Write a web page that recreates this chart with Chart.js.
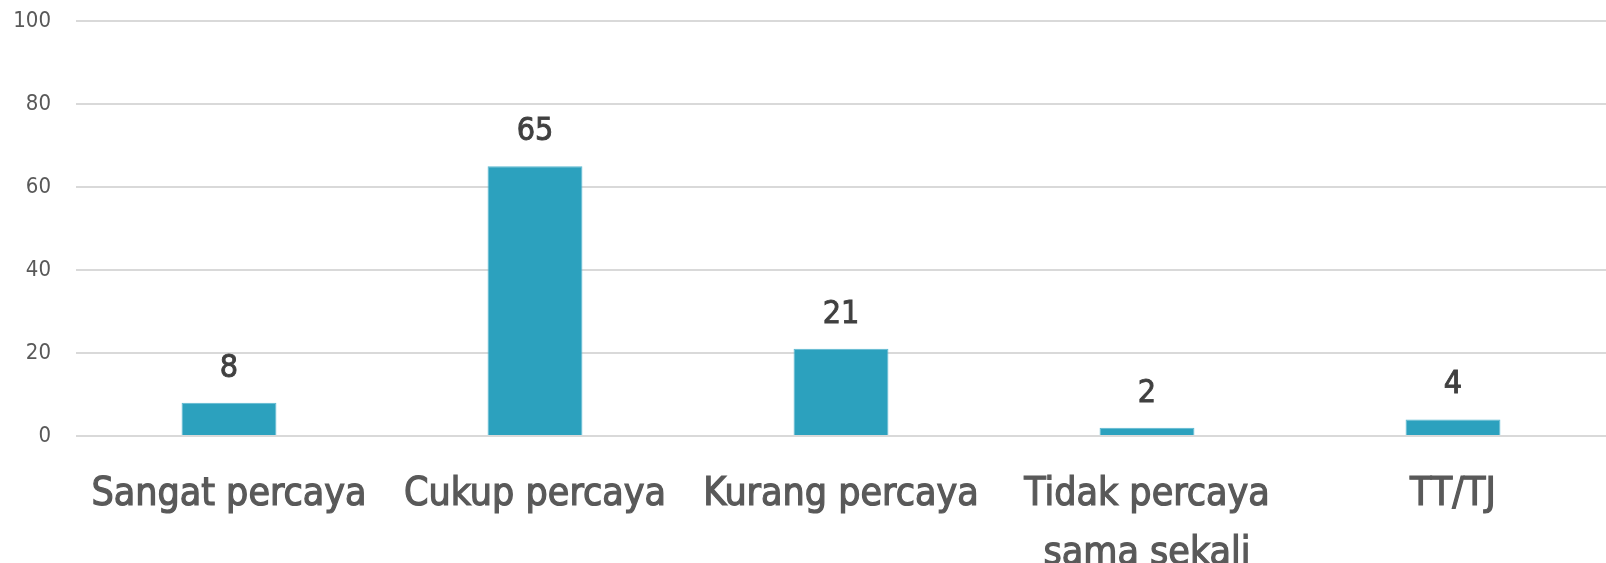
<!DOCTYPE html>
<html>
<head>
<meta charset="utf-8">
<script src="https://cdn.jsdelivr.net/npm/chart.js@4.4.0/dist/chart.umd.min.js"></script>
<style>
  html, body { margin: 0; padding: 0; background: #ffffff; }
  #wrap { width: 1606px; height: 563px; }
</style>
</head>
<body>
<div id="wrap"><canvas id="myChart" width="1606" height="563"></canvas></div>
<script>
var categories = ["Sangat percaya", "Cukup percaya", "Kurang percaya", ["Tidak percaya", "sama sekali"], "TT/TJ"];
var values = [8, 65, 21, 2, 4];
var yTicks = [0, 20, 40, 60, 80, 100];

var FONT = "'DejaVu Sans Condensed', 'DejaVu Sans', sans-serif";

// value labels above the bars
var barLabels = {
  id: "barLabels",
  afterDatasetsDraw: function(chart) {
    var ctx = chart.ctx;
    var meta = chart.getDatasetMeta(0);
    ctx.save();
    ctx.font = "32px " + FONT;
    ctx.fillStyle = "#404040";
    ctx.strokeStyle = "#404040";
    ctx.lineWidth = 0.9;
    ctx.textAlign = "center";
    ctx.textBaseline = "alphabetic";
    meta.data.forEach(function(bar, i) {
      ctx.fillText(values[i], bar.x, bar.y - 26);
      ctx.strokeText(values[i], bar.x, bar.y - 26);
    });
    ctx.restore();
  }
};

function printChart() {
  var ctx = document.getElementById("myChart").getContext("2d");
  var myChart = new Chart(ctx, {
    type: "bar",
    data: {
      labels: categories,
      datasets: [{
        data: values,
        backgroundColor: "#2ca1be",
        borderColor: "#5ab8d0",
        borderWidth: 1,
        categoryPercentage: 1,
        barPercentage: 0.31
      }]
    },
    options: {
      responsive: false,
      animation: false,
      layout: { padding: { top: 0, right: 0, left: 0, bottom: 0 } },
      plugins: { legend: { display: false }, tooltip: { enabled: false } },
      scales: {
        x: {
          grid: { display: false, drawTicks: false },
          border: { display: false },
          ticks: {
            color: "#595959",
            textStrokeColor: "#595959",
            textStrokeWidth: 1.2,
            font: { family: FONT, size: 39, lineHeight: 1.5 },
            padding: 30,
            maxRotation: 0,
            autoSkip: false
          },
          afterFit: function(scale) { scale.height = 127; }
        },
        y: {
          min: 0,
          max: 100,
          afterBuildTicks: function(scale) {
            scale.ticks = yTicks.map(function(v) { return { value: v }; });
          },
          grid: { color: "#d9d9d9", lineWidth: 2, drawTicks: false },
          border: { display: false },
          ticks: {
            color: "#595959",
            font: { family: FONT, size: 22, lineHeight: 1 },
            padding: 25
          },
          afterFit: function(scale) {
            scale.width = 76;
            scale.paddingTop = 21;
            scale.paddingBottom = 0;
          }
        }
      }
    },
    plugins: [barLabels]
  });
}

printChart();
</script>
</body>
</html>
